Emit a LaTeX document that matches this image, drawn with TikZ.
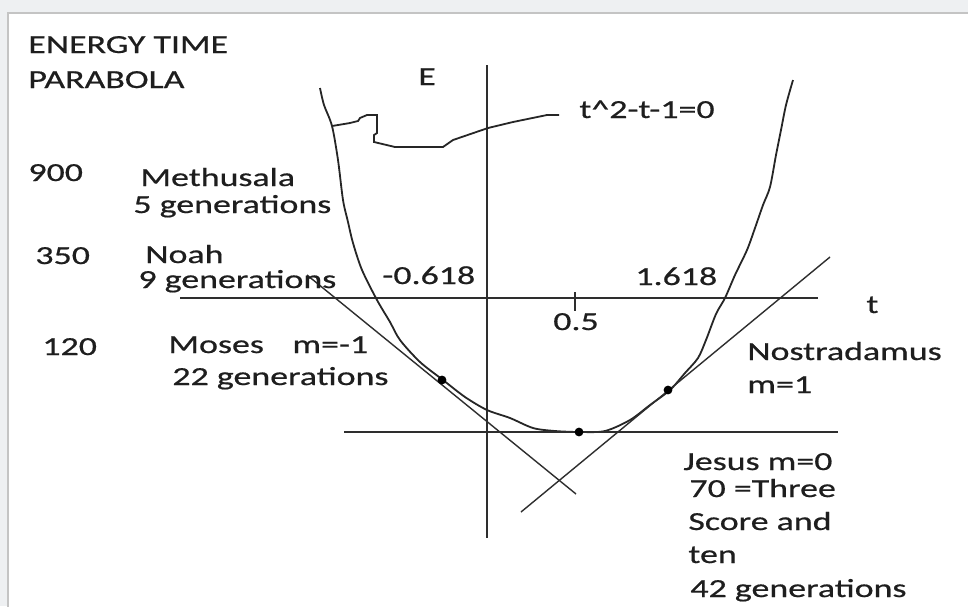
\documentclass[tikz,border=0pt]{standalone}
\usepackage{fontspec}
\setmainfont{Carlito}[FakeStretch=1.38,FakeBold=0.6]
\definecolor{pagegray}{HTML}{EEF0F2}
\definecolor{framegray}{HTML}{C4C4C4}
\definecolor{inkline}{HTML}{2E2E2E}
\definecolor{inktext}{HTML}{1E1E1E}
\tikzset{
  lbl/.style={inner sep=0pt,anchor=base west,text=inktext,font=\fontsize{13}{15}\selectfont},
  axisline/.style={draw=inkline,line width=1pt},
  tangent/.style={draw=inkline,line width=0.7pt},
  parab/.style={draw=black!85,line width=0.9pt},
  dotmark/.style={circle,fill=black,inner sep=0pt,minimum size=4.4pt}
}
\begin{document}
\begin{tikzpicture}[x=0.5pt,y=-0.5pt]
  \useasboundingbox (0,0) rectangle (968,606);
  \fill[pagegray] (0,0) rectangle (968,606);
  \fill[white] (7.5,12.5) rectangle (970,610);
  \draw[framegray,line width=1pt] (7.5,610) -- (7.5,12.5) -- (970,12.5);

  % axes
  \coordinate (etop) at (487,65);
  \coordinate (ebot) at (487,538);
  \coordinate (tleft) at (180,298);
  \coordinate (tright) at (818,298);
  \draw[axisline] (etop) -- (ebot);
  \draw[axisline] (tleft) -- (tright);
  \draw[axisline] (575,292) coordinate (tick) -- (575,311);

  % the parabola
  \draw[parab] plot[smooth,tension=0.5] coordinates {
    (320,88) (324,105) (332,126) (338,160) (343,200) (348,222) (353,243)
    (362,270) (377,300) (390,322) (400,340) (420,362) (443,380) (465,397)
    (487,410) (510,418) (533,428) (555,431) (580,432) (605,431) (630,420)
    (650,405) (670,390) (685,373) (698,358) (706,340) (716,314) (725,298)
    (735,275) (747,250) (755,228) (763,205) (770,187) (776,155) (781,130)
    (786,105) (793,80)};

  % tangents
  \coordinate (mneg1) at (307,275);
  \coordinate (mneg2) at (576,494);
  \coordinate (mpos1) at (521,512);
  \coordinate (mpos2) at (830,257);
  \coordinate (mzero1) at (344,432);
  \coordinate (mzero2) at (838,432);
  \draw[tangent] (mneg1) -- (mneg2);
  \draw[tangent] (mpos1) -- (mpos2);
  \draw[axisline] (mzero1) -- (mzero2);

  \node[dotmark] (ptmoses) at (442,380) {};
  \node[dotmark] (ptjesus) at (579,432) {};
  \node[dotmark] (ptnostra) at (668,390) {};

  % labels
  \node[lbl] (title1) at (28,53) {ENERGY TIME};
  \node[lbl] (title2) at (28,88) {PARABOLA};
  \node[lbl] (elbl) at (418,85) {E};
  \node[lbl] (tlbl) at (866,313) {t};
  \node[lbl] (eqlbl) at (579,118) {t\^{}2-t-1=0};
  \node[lbl] (rootneg) at (382,284) {-0.618};
  \node[lbl] (rootpos) at (635,285) {1.618};
  \node[lbl,anchor=base] (half) at (576,330) {0.5};

  \node[lbl] (n900) at (28,181) {900};
  \node[lbl] (meth1) at (140,186) {Methusala};
  \node[lbl] (meth2) at (133,213) {5 generations};
  \node[lbl] (n350) at (35,264) {350};
  \node[lbl] (noah1) at (145,263) {Noah};
  \node[lbl] (noah2) at (138,288) {9 generations};
  \node[lbl] (n120) at (42,355) {120};
  \node[lbl] (moses1) at (168,353) {Moses\hspace{1.1em}m=-1};
  \node[lbl] (moses2) at (172,385) {22 generations};
  \node[lbl] (nostra1) at (747,360) {Nostradamus};
  \node[lbl] (nostra2) at (747,393) {m=1};
  \node[lbl] (jesus1) at (683,470) {Jesus m=0};
  \node[lbl] (jesus2) at (689,497) {70 =Three};
  \node[lbl] (jesus3) at (688,530) {Score and};
  \node[lbl] (jesus4) at (688,563) {ten};
  \node[lbl] (jesus5) at (690,597) {42 generations};

  % the t^2-t-1=0 curve
  \draw[parab] (332,126) -- (350,123) -- (358,121) -- (360,118) -- (367,115)
    -- (377,115) -- (377,133) -- (374,135) -- (374,142) -- (395,147)
    -- (443,147) -- (453,140) -- (488,128) -- (513,122) -- (547,115)
    -- ([xshift=-10pt,yshift=1.5pt]eqlbl.base west);
\end{tikzpicture}
\end{document}
